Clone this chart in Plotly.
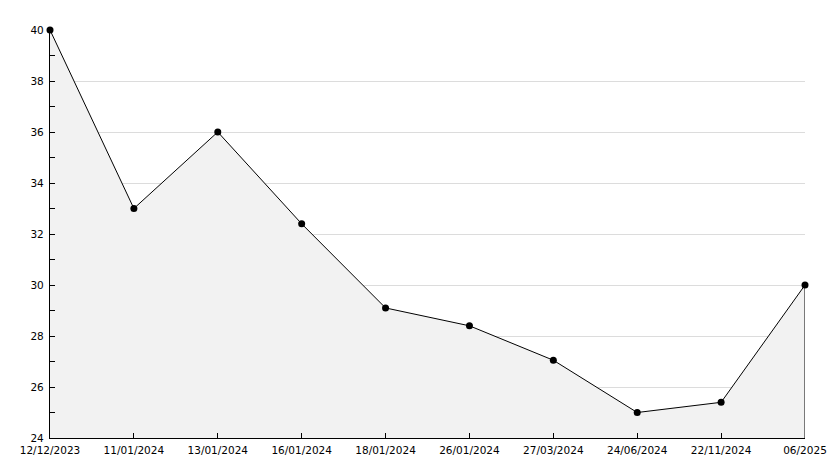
import plotly.graph_objects as go

dates = ["12/12/2023", "11/01/2024", "13/01/2024", "16/01/2024", "18/01/2024",
         "26/01/2024", "27/03/2024", "24/06/2024", "22/11/2024", "06/2025"]
values = [40, 33.0, 36.0, 32.4, 29.1, 28.4, 27.05, 25.0, 25.4, 30]
y_min, y_max = 24, 40

fig = go.Figure()
fig.add_trace(go.Scatter(
    x=dates, y=values, mode="lines", fill="tozeroy",
    fillcolor="#f2f2f2", line=dict(color="black", width=1),
    hoverinfo="skip", showlegend=False,
))
# closing edge of the filled area at the last category
fig.add_trace(go.Scatter(
    x=[dates[-1], dates[-1]], y=[values[-1], y_min], mode="lines",
    line=dict(color="black", width=1), hoverinfo="skip", showlegend=False,
))
fig.add_trace(go.Scatter(
    x=dates, y=values, mode="markers", cliponaxis=False,
    marker=dict(color="black", size=7, symbol="circle"),
    hoverinfo="x+y", showlegend=False,
))

fig.update_layout(
    width=834, height=468,
    margin=dict(l=50, r=29, t=30, b=30, autoexpand=False),
    paper_bgcolor="white", plot_bgcolor="white",
    font=dict(family="DejaVu Sans", size=10.5, color="black"),
    xaxis=dict(
        type="category", categoryorder="array", categoryarray=dates,
        range=[0, len(dates) - 1],
        showline=True, linecolor="black", linewidth=1.2,
        ticks="inside", ticklen=5, tickcolor="black",
        showgrid=False, zeroline=False, fixedrange=True,
        automargin=False, ticklabelstandoff=2,
    ),
    yaxis=dict(
        range=[y_min, y_max], dtick=2, tick0=y_min,
        showline=True, linecolor="black", linewidth=1.2,
        ticks="inside", ticklen=5, tickcolor="black",
        showgrid=True, gridcolor="#dcdcdc", gridwidth=1,
        zeroline=False, fixedrange=True, automargin=False,
        ticklabelstandoff=3,
        minor=dict(dtick=1, ticks="inside", ticklen=5, tickcolor="black", showgrid=False),
    ),
)
fig.write_html("out.html", config={"displayModeBar": False})

with open("out.html", "r", encoding="utf-8") as f:
    html = f.read()
html = html.replace("<head>", "<head><style>html,body{margin:0;padding:0;overflow:hidden}</style>", 1)
with open("out.html", "w", encoding="utf-8") as f:
    f.write(html)
